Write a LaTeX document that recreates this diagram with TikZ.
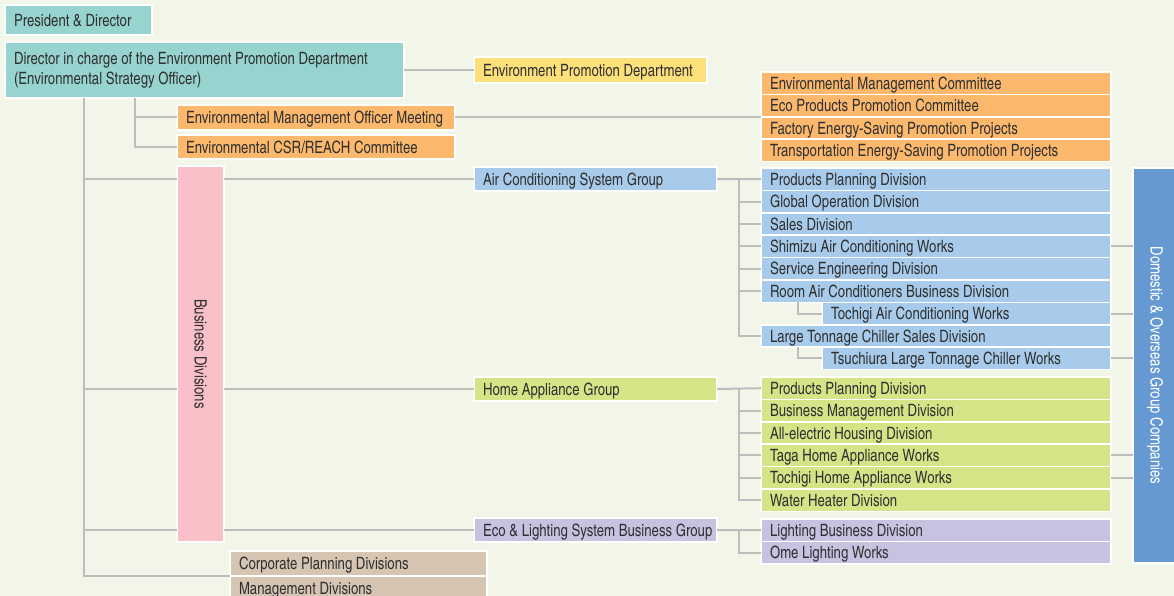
\documentclass[tikz,border=0pt]{standalone}
\usepackage{fontspec}
\setmainfont{texgyreheroscn-regular.otf}[FakeStretch=0.945]
\usetikzlibrary{positioning,calc}

\definecolor{paper}{HTML}{F1F6E9}
\definecolor{ink}{HTML}{303030}
\definecolor{wire}{HTML}{BDBDBD}
\definecolor{teal}{HTML}{97D4D0}
\definecolor{sun}{HTML}{FDE07A}
\definecolor{amber}{HTML}{FCB96E}
\definecolor{rose}{HTML}{F9C0C8}
\definecolor{sky}{HTML}{A9CBEB}
\definecolor{leaf}{HTML}{D4E487}
\definecolor{lilac}{HTML}{C6C3E1}
\definecolor{sand}{HTML}{D5C5B2}
\definecolor{deepsky}{HTML}{6699D1}

\begin{document}
\begin{tikzpicture}[
    x=1pt, y=-1pt,
    font=\fontsize{17}{19.5}\selectfont,
    box/.style={rectangle, draw=white, line width=1.6pt, outer sep=0pt, anchor=north west,
        inner xsep=9pt, inner ysep=0pt, text=ink, text height=12.2pt, text depth=0pt},
    tw/.style={execute at begin node={\hbox to #1\bgroup}, execute at end node={\hss\egroup}},
    row/.style={box, minimum height=22.4pt, tw=332pt},
    subrow/.style={box, minimum height=22.4pt, tw=271pt},
    stack/.style={below=0pt of #1.south east, anchor=north east},
    conn/.style={draw=wire, line width=2pt}
]
    \fill[paper] (0,0) rectangle (1174,596);
    \useasboundingbox (0,0) rectangle (1174,596);
    \clip (0,0) rectangle (1174,596);

    % top management
    \node[box, fill=teal, minimum height=30pt, tw=129pt] (pres) at (5,5) {President \& Director};
    \node[box, fill=teal, minimum height=56pt, text width=381pt, align=left, text height=, text depth=] (dir) at (5,42)
        {\spaceskip=0pt\xspaceskip=0pt Director in charge of the Environment Promotion Department\\(Environmental Strategy Officer)};
    \node[box, fill=sun, minimum height=26pt, tw=215pt] (epd) at (474,57) {Environment Promotion Department};
    \node[box, fill=amber, minimum height=25pt, tw=260pt] (emom) at (177,105) {Environmental Management Officer Meeting};
    \node[box, fill=amber, minimum height=24pt, tw=260pt] (csr) at (177,135) {Environmental CSR/REACH Committee};

    % committees
    \node[row, fill=amber] (com1) at (761,72) {Environmental Management Committee};
    \node[row, fill=amber, stack=com1] (com2) {Eco Products Promotion Committee};
    \node[row, fill=amber, stack=com2] (com3) {Factory Energy-Saving Promotion Projects};
    \node[row, fill=amber, stack=com3] (com4) {Transportation Energy-Saving Promotion Projects};

    % business divisions
    \node[box, fill=rose, minimum width=47pt, minimum height=376pt, inner sep=0pt, text height=, text depth=,
        label={[rotate=-90, text=ink]center:Business Divisions}] (biz) at (177,166) {};
    \node[box, fill=sky, minimum height=24pt, tw=225pt] (acg) at (474,167) {Air Conditioning System Group};
    \node[box, fill=leaf, minimum height=24pt, tw=225pt] (hag) at (474,377) {Home Appliance Group};
    \node[box, fill=lilac, minimum height=24pt, tw=225pt] (elg) at (474,518) {Eco \& Lighting System Business Group};
    \node[box, fill=sand, minimum height=25pt, tw=239pt] (corp) at (230,551) {Corporate Planning Divisions};
    \node[box, fill=sand, minimum height=25pt, tw=239pt, below=0pt of corp.south west, anchor=north west] (mgmt) {Management Divisions};

    % air conditioning
    \node[row, fill=sky] (ac1) at (761,168) {Products Planning Division};
    \node[row, fill=sky, stack=ac1] (ac2) {Global Operation Division};
    \node[row, fill=sky, stack=ac2] (ac3) {Sales Division};
    \node[row, fill=sky, stack=ac3] (ac4) {Shimizu Air Conditioning Works};
    \node[row, fill=sky, stack=ac4] (ac5) {Service Engineering Division};
    \node[row, fill=sky, stack=ac5] (ac6) {Room Air Conditioners Business Division};
    \node[subrow, fill=sky, stack=ac6] (ac7) {Tochigi Air Conditioning Works};
    \node[row, fill=sky, stack=ac7] (ac8) {Large Tonnage Chiller Sales Division};
    \node[subrow, fill=sky, stack=ac8] (ac9) {Tsuchiura Large Tonnage Chiller Works};

    % home appliance
    \node[row, fill=leaf] (ha1) at (761,377) {Products Planning Division};
    \node[row, fill=leaf, stack=ha1] (ha2) {Business Management Division};
    \node[row, fill=leaf, stack=ha2] (ha3) {All-electric Housing Division};
    \node[row, fill=leaf, stack=ha3] (ha4) {Taga Home Appliance Works};
    \node[row, fill=leaf, stack=ha4] (ha5) {Tochigi Home Appliance Works};
    \node[row, fill=leaf, stack=ha5] (ha6) {Water Heater Division};

    % lighting
    \node[row, fill=lilac] (el1) at (761,519) {Lighting Business Division};
    \node[row, fill=lilac, stack=el1] (el2) {Ome Lighting Works};

    % group companies
    \node[box, fill=deepsky, minimum width=44pt, minimum height=395pt, inner sep=0pt, text height=, text depth=,
        label={[rotate=-90, text=white]center:Domestic \& Overseas Group Companies}] (dom) at (1133,168) {};

    % connectors
    \coordinate (trunk) at (84,98);
    \coordinate (subbus) at (135,98);
    \draw[conn] (dir.east) -- (epd.west);
    \draw[conn] (subbus) |- (csr.west);
    \draw[conn] (subbus |- emom.west) -- (emom.west);
    \draw[conn] (emom.east) -- (emom.east -| com1.west);
    \draw[conn] (trunk) |- (corp.south west);
    \foreach \g in {acg,hag,elg} {
        \draw[conn] (trunk |- \g.west) -- (biz.west |- \g.west);
        \draw[conn] (biz.east |- \g.west) -- (\g.west);
    }

    \coordinate (acbus) at ($(acg.east)+(22,0)$);
    \draw[conn] (acg.east) -- (ac1.west);
    \draw[conn] (acbus) |- (ac8.west);
    \foreach \r in {2,...,6}
        \draw[conn] (acbus |- ac\r.west) -- (ac\r.west);
    \draw[conn] ($(ac6.south west)+(37,0)$) |- (ac7.west);
    \draw[conn] ($(ac8.south west)+(37,0)$) |- (ac9.west);

    \coordinate (habus) at ($(hag.east)+(22,0)$);
    \draw[conn] (hag.east) -- (ha1.west);
    \draw[conn] (habus) |- (ha6.west);
    \foreach \r in {2,...,5}
        \draw[conn] (habus |- ha\r.west) -- (ha\r.west);

    \coordinate (elbus) at ($(elg.east)+(22,0)$);
    \draw[conn] (elg.east) -- (el1.west);
    \draw[conn] (elbus) |- (el2.west);

    \foreach \r in {ac4,ac7,ac9,ha4,ha5}
        \draw[conn] (\r.east) -- (\r.east -| dom.west);
\end{tikzpicture}
\end{document}
